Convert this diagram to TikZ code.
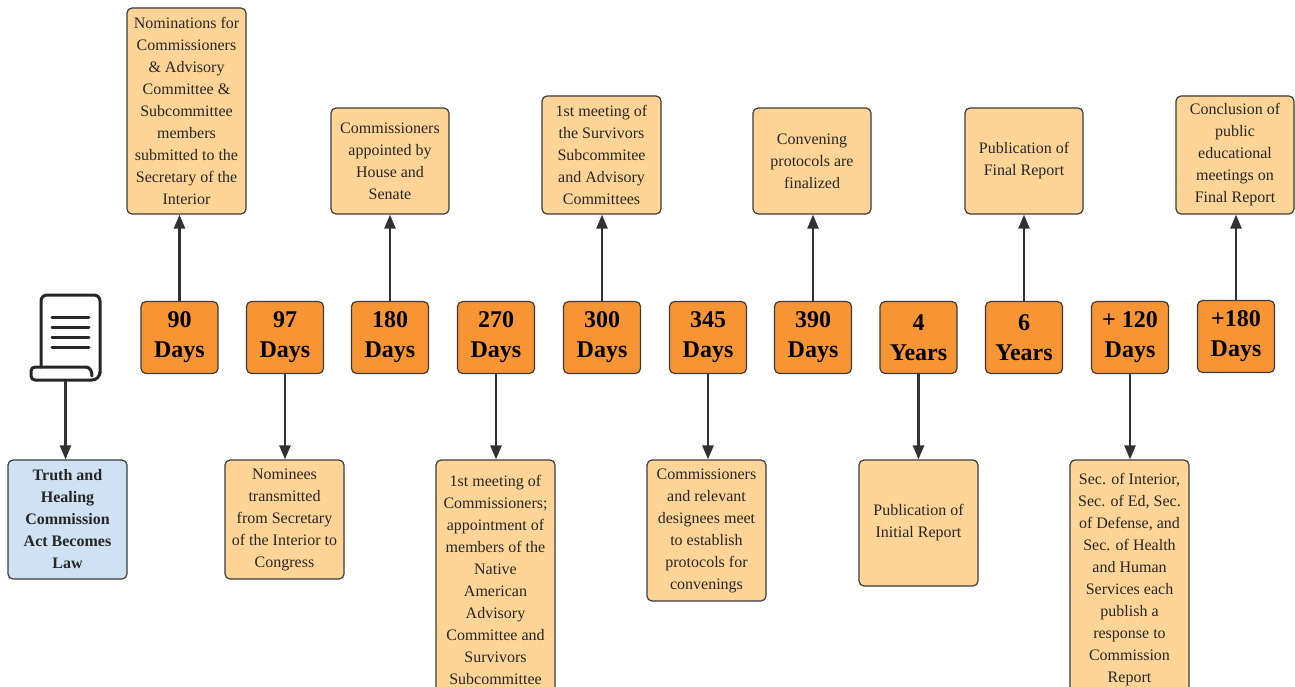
\documentclass[tikz,border=0pt]{standalone}
\usepackage{fontspec}
\setmainfont{Liberation Serif}
\usetikzlibrary{arrows.meta}
\definecolor{orangeD}{RGB}{247,148,52}
\definecolor{orangeL}{RGB}{254,213,150}
\definecolor{blueL}{RGB}{207,226,243}
\definecolor{bordc}{RGB}{60,60,60}
\definecolor{arrc}{RGB}{50,50,50}
\tikzset{
  evbox/.style={draw=bordc, fill=orangeL, rounded corners=5pt, line width=1.2pt,
    align=center, inner sep=0pt, text=black!85,
    font=\fontsize{16}{22}\selectfont},
  lawbox/.style={evbox, fill=blueL, font=\fontsize{16}{22}\selectfont\bfseries},
  daybox/.style={draw=bordc, fill=orangeD, rounded corners=5pt, line width=1.2pt,
    align=center, inner sep=0pt, minimum width=77pt, minimum height=72pt,
    font=\fontsize{24}{30}\selectfont\bfseries},
  arr/.style={draw=arrc, line width=2.4pt, -{Triangle[width=11pt,length=14pt]}},
  iconline/.style={draw=black!85, line width=3pt, line cap=round, line join=round}
}
\begin{document}
\begin{tikzpicture}[x=1pt,y=-1pt]
\clip (0,0) rectangle (1295,687);
\fill[white] (0,0) rectangle (1295,687);

% day boxes
\node[daybox] (d90)  at (179.5,337.5) {90\\Days};
\node[daybox] (d97)  at (285,337.5) {97\\Days};
\node[daybox] (d180) at (390,337.5) {180\\Days};
\node[daybox] (d270) at (496,337.5) {270\\Days};
\node[daybox] (d300) at (602,337.5) {300\\Days};
\node[daybox] (d345) at (708,337.5) {345\\Days};
\node[daybox] (d390) at (813,337.5) {390\\Days};
\node[daybox] (y4)   at (918.5,337.5) {4\\Years};
\node[daybox] (y6)   at (1024,337.5) {6\\Years};
\node[daybox] (p120) at (1130,337.5) {+ 120\\Days};
\node[daybox] (p180) at (1236,336.5) {+180\\Days};

% top boxes
\node[evbox, minimum width=119pt, minimum height=206pt] (t1) at (186.5,111)
  {Nominations for\\Commissioners\\\& Advisory\\Committee \&\\Subcommittee\\members\\submitted to the\\Secretary of the\\Interior};
\node[evbox, minimum width=118pt, minimum height=106pt] (t2) at (390,161)
  {Commissioners\\appointed by\\House and\\Senate};
\node[evbox, minimum width=119pt, minimum height=118pt] (t3) at (601.5,155)
  {1st meeting of\\the Survivors\\Subcommitee\\and Advisory\\Committees};
\node[evbox, minimum width=118pt, minimum height=106pt] (t4) at (812,161)
  {Convening\\protocols are\\finalized};
\node[evbox, minimum width=118pt, minimum height=106pt] (t5) at (1024,161)
  {Publication of\\Final Report};
\node[evbox, minimum width=118pt, minimum height=118pt] (t6) at (1235,155)
  {Conclusion of\\public\\educational\\meetings on\\Final Report};

% bottom boxes
\node[lawbox, minimum width=119pt, minimum height=119pt] (law) at (67.5,519.5)
  {Truth and\\Healing\\Commission\\Act Becomes\\Law};
\node[evbox, minimum width=119pt, minimum height=119pt] (b1) at (284.5,519.5)
  {Nominees\\transmitted\\from Secretary\\of the Interior to\\Congress};
\node[evbox, minimum width=119pt, minimum height=240pt] (b2) at (495.5,580)
  {1st meeting of\\Commissioners;\\appointment of\\members of the\\Native\\American\\Advisory\\Committee and\\Survivors\\Subcommittee};
\node[evbox, minimum width=119pt, minimum height=141pt] (b3) at (706.5,530.5)
  {Commissioners\\and relevant\\designees meet\\to establish\\protocols for\\convenings};
\node[evbox, minimum width=119pt, minimum height=126pt] (b4) at (918.5,523)
  {Publication of\\Initial Report};
\node[evbox, minimum width=119pt, minimum height=240pt] (b5) at (1129.5,580)
  {Sec. of Interior,\\Sec. of Ed, Sec.\\of Defense, and\\Sec. of Health\\and Human\\Services each\\publish a\\response to\\Commission\\Report};

% document icon
\draw[iconline, rounded corners=6pt] (41,367) |- (100,295) -- (100,373);
\draw[iconline] (52,317) -- (89,317);
\draw[iconline] (52,327) -- (89,327);
\draw[iconline] (52,337) -- (89,337);
\draw[iconline] (52,347) -- (89,347);
\draw[iconline, rounded corners=4pt] (86,367) -- (31,367) -- (31,380) -- (92,380);
\draw[iconline] (92,380) to[out=0,in=-90] (100,372);
\draw[iconline] (86,367) to[out=0,in=90] (92,376);
\coordinate (doc) at (65.5,381);

% connectors
\draw[arr] (doc) -- (doc |- law.north);
\draw[arr] (d90.north)  -- (d90.north |- t1.south);
\draw[arr] (d97.south)  -- (d97.south |- b1.north);
\draw[arr] (d180.north) -- (d180.north |- t2.south);
\draw[arr] (d270.south) -- (d270.south |- b2.north);
\draw[arr] (d300.north) -- (d300.north |- t3.south);
\draw[arr] (d345.south) -- (d345.south |- b3.north);
\draw[arr] (d390.north) -- (d390.north |- t4.south);
\draw[arr] (y4.south)   -- (y4.south |- b4.north);
\draw[arr] (y6.north)   -- (y6.north |- t5.south);
\draw[arr] (p120.south) -- (p120.south |- b5.north);
\draw[arr] (p180.north) -- (p180.north |- t6.south);
\end{tikzpicture}
\end{document}
